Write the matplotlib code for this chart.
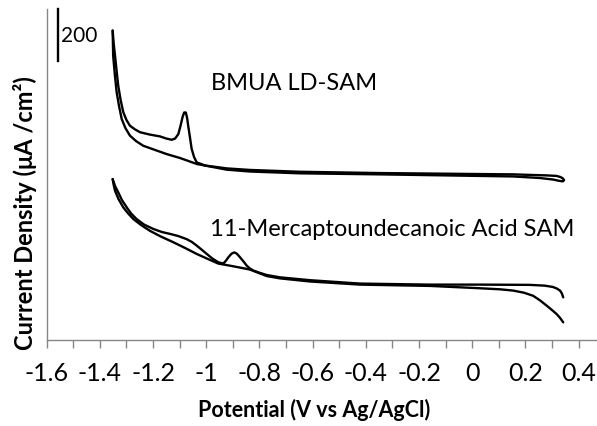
import matplotlib
matplotlib.use("Agg")
import matplotlib.pyplot as plt
from matplotlib.ticker import MultipleLocator, FuncFormatter

plt.rcParams['font.family'] = ['Lato', 'DejaVu Sans']

# BMUA LD-SAM (curve is drawn with its vertical offset)
bmua_fwd_v = [-1.352, -1.348, -1.343, -1.337, -1.331, -1.322, -1.312, -1.300,
              -1.287, -1.268, -1.249, -1.212, -1.174, -1.151, -1.130, -1.117,
              -1.105, -1.097, -1.089, -1.083, -1.077, -1.072, -1.068, -1.061,
              -1.055, -1.046, -1.036, -1.004, -0.923, -0.836, -0.648, -0.347,
              0.153, 0.280, 0.317, 0.331, 0.340, 0.345]
bmua_fwd_i = [1190, 1139, 1093, 1034, 978, 923, 876, 846,
              824, 810, 799, 790, 783, 775, 770, 775,
              792, 823, 858, 875, 875, 854, 824, 777,
              735, 704, 683, 671, 660, 654, 647, 642,
              637, 633, 631, 627, 622, 615]
bmua_rev_v = [0.345, 0.340, 0.322, 0.305, 0.254, 0.153, -0.347, -0.648,
              -0.836, -0.923, -1.036, -1.099, -1.149, -1.193, -1.237, -1.264,
              -1.287, -1.304, -1.318, -1.328, -1.337, -1.344, -1.350, -1.351,
              -1.352]
bmua_rev_i = [615, 610, 613, 617, 623, 629, 637, 641,
              648, 655, 677, 700, 715, 731, 747, 765,
              786, 815, 850, 900, 953, 1023, 1093, 1142,
              1190]

# 11-mercaptoundecanoic acid SAM
mua_a_v = [-1.352, -1.343, -1.331, -1.317, -1.299, -1.283, -1.262, -1.234,
           -1.199, -1.166, -1.136, -1.106, -1.074, -1.054, -1.036, -1.018,
           -0.998, -0.978, -0.955, -0.936, -0.926, -0.917, -0.905, -0.895,
           -0.885, -0.873, -0.860, -0.848, -0.836, -0.823, -0.798, -0.773,
           -0.723, -0.610, -0.422, -0.159, 0.029, 0.217, 0.273, 0.303,
           0.318, 0.330, 0.337, 0.342]
mua_a_i = [619, 592, 568, 538, 510, 487, 465, 444,
           427, 415, 408, 400, 388, 377, 363, 348,
           331, 314, 299, 294, 305, 318, 332, 337,
           332, 318, 302, 286, 275, 267, 258, 250,
           241, 230, 217, 213, 213, 212, 209, 204,
           198, 190, 179, 164]
mua_b_v = [-1.352, -1.348, -1.343, -1.330, -1.312, -1.294, -1.274, -1.245,
           -1.212, -1.171, -1.124, -1.080, -1.036, -0.997, -0.955, -0.896,
           -0.836, -0.773, -0.723, -0.610, -0.422, -0.159, 0.029, 0.104,
           0.154, 0.194, 0.229, 0.254, 0.280, 0.300, 0.317, 0.330,
           0.342]
mua_b_i = [619, 596, 574, 542, 510, 487, 465, 442,
           420, 398, 376, 354, 331, 313, 294, 283,
           271, 246, 237, 225, 213, 208, 199, 195,
           190, 182, 170, 153, 132, 115, 100, 85,
           68]

scale_bar = 200

fig = plt.figure(figsize=(5.97, 4.27), dpi=100)
ax = fig.add_axes([0.0782, 0.2014, 0.9218, 0.7752])

for v, i in [(bmua_fwd_v, bmua_fwd_i), (bmua_rev_v, bmua_rev_i),
             (mua_a_v, mua_a_i), (mua_b_v, mua_b_i)]:
    ax.plot(v, i, color='black', lw=1.7, solid_joinstyle='round',
            solid_capstyle='round')

ax.set_xlim(-1.6, 0.469)
ax.set_ylim(0, 1273)

grey = '#868686'
for side in ['top', 'right']:
    ax.spines[side].set_visible(False)
for side in ['left', 'bottom']:
    ax.spines[side].set_color(grey)
    ax.spines[side].set_linewidth(1.0)


def fmt(x, pos):
    if abs(x) < 1e-9:
        return "0"
    s = f"{x:.1f}"
    if s.endswith(".0"):
        s = s[:-2]
    return s


ax.xaxis.set_major_locator(MultipleLocator(0.2))
ax.xaxis.set_minor_locator(MultipleLocator(0.1))
ax.xaxis.set_major_formatter(FuncFormatter(fmt))
ax.tick_params(axis='x', which='both', direction='out', length=6, width=1.0,
               color=grey, labelsize=18, pad=9)
ax.set_yticks([])

fig.text(314 / 597, 1 - 410 / 427, 'Potential (V vs Ag/AgCl)', fontsize=15.5,
         fontweight='bold', ha='center', va='center')
fig.text(25 / 597, 1 - 213 / 427, 'Current Density (μA /cm²)', fontsize=17,
         fontweight='bold', ha='center', va='center', rotation=90)

# scale bar
ax.plot([-1.559, -1.559], [1273 - scale_bar, 1273], color='black', lw=1.7,
        clip_on=False)
ax.text(-1.547, 1273 - scale_bar / 2, str(scale_bar), fontsize=15,
        va='center', ha='left')

ax.text(-0.984, 990, 'BMUA LD-SAM', fontsize=17, va='center', ha='left')
ax.text(-0.986, 427, '11-Mercaptoundecanoic Acid SAM', fontsize=17,
        va='center', ha='left')

fig.savefig('out.png', dpi=100)
